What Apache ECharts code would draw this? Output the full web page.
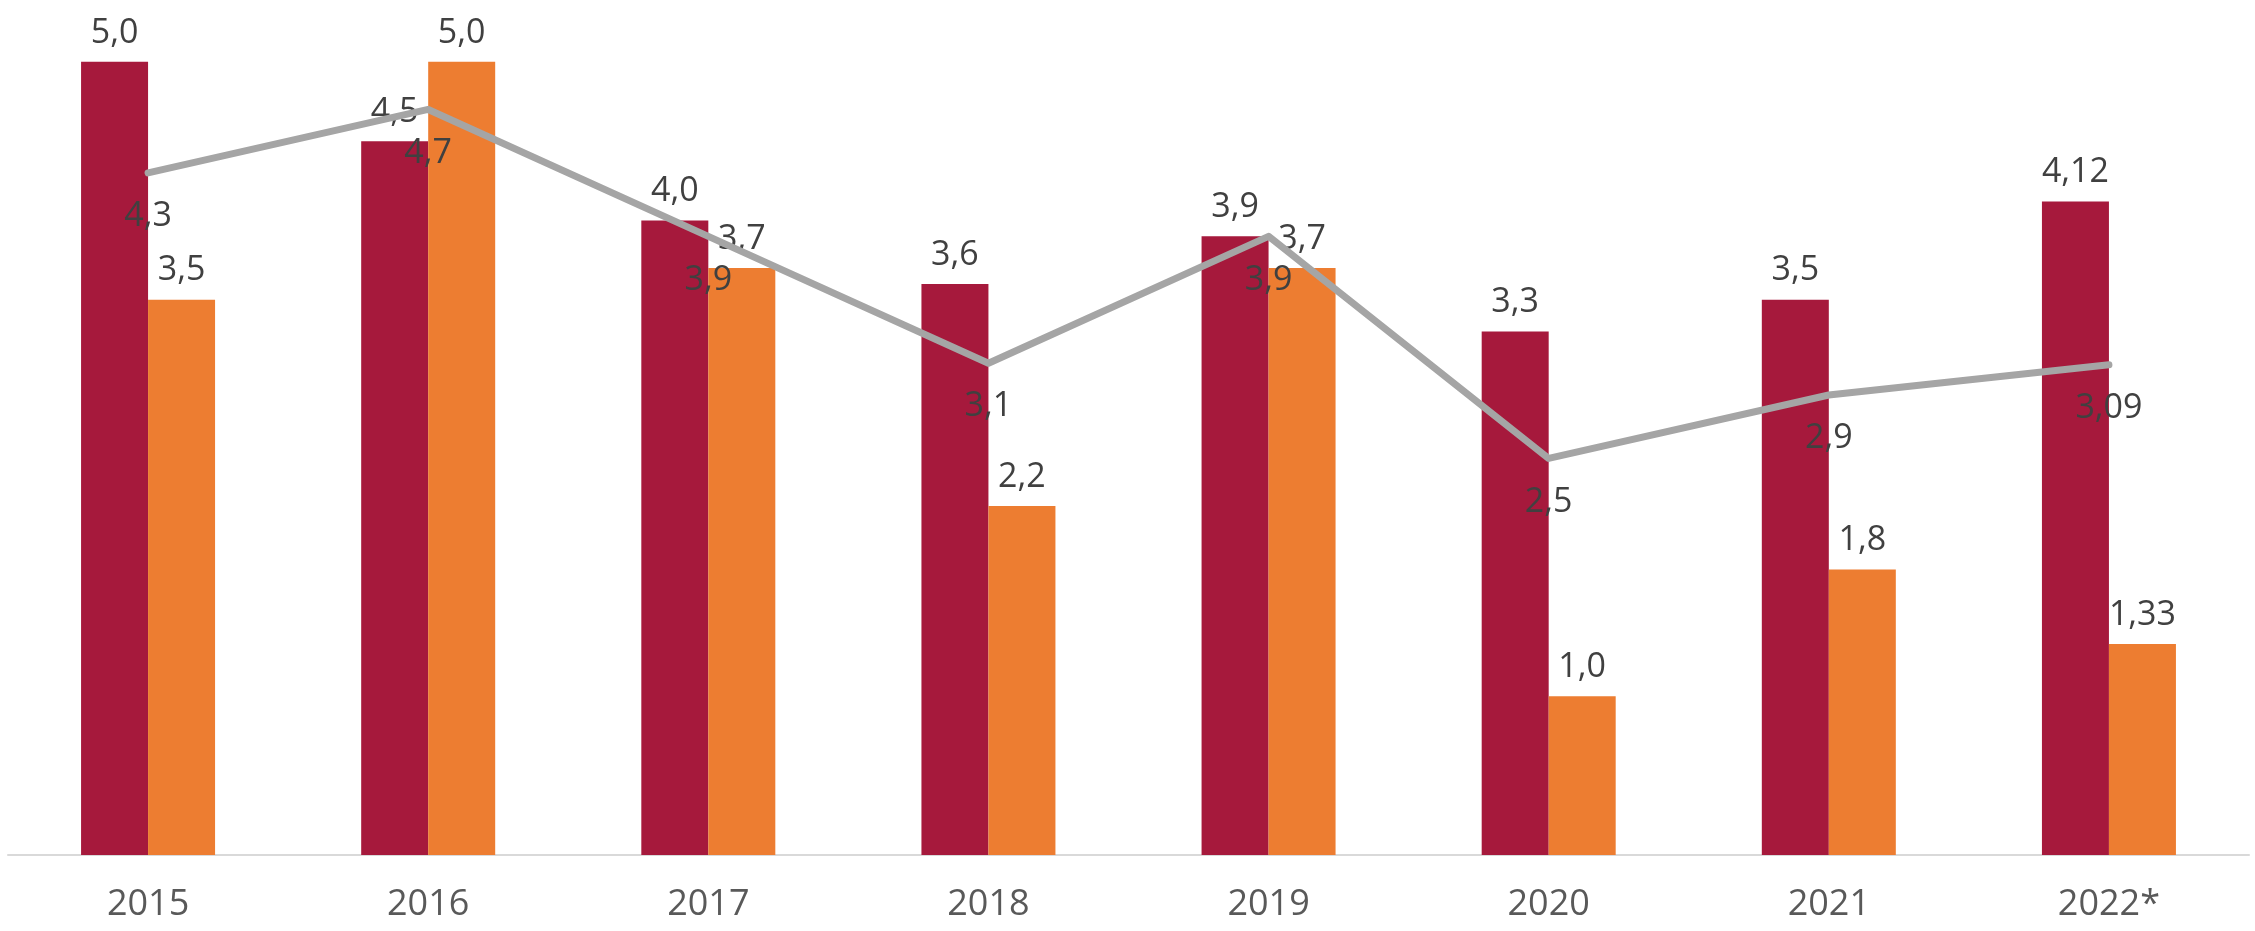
<!DOCTYPE html>
<html>
<head>
<meta charset="utf-8">
<script src="https://cdn.jsdelivr.net/npm/echarts@6/dist/echarts.min.js"></script>
<style>
  html, body { margin: 0; padding: 0; background: #fff; }
  #chart { width: 2255px; height: 931px; }
</style>
</head>
<body>
<div id="chart"></div>
<script>
const years = ['2015', '2016', '2017', '2018', '2019', '2020', '2021', '2022*'];
const barsRed = [5.0, 4.5, 4.0, 3.6, 3.9, 3.3, 3.5, 4.12];
const barsOrange = [3.5, 5.0, 3.7, 2.2, 3.7, 1.0, 1.8, 1.33];
const lineGray = [4.3, 4.7, 3.9, 3.1, 3.9, 2.5, 2.9, 3.09];

// excel style: decimal comma, keep at least one decimal
const fmt = p => {
    let s = String(p.value);
    if (s.indexOf('.') < 0) s += '.0';
    return s.replace('.', ',');
};

const labelFont = {
    fontFamily: 'Open Sans',
    fontSize: 34,
    color: '#404040',
};

const chart = echarts.init(document.getElementById('chart'));

chart.setOption({
    animation: false,
    grid: { left: 8, right: 6, top: 0, bottom: 76 },
    xAxis: {
        type: 'category',
        data: years,
        axisLine: { lineStyle: { color: '#d9d9d9', width: 2 } },
        axisTick: { show: false },
        axisLabel: {
            color: '#595959',
            fontFamily: 'Open Sans',
            fontSize: 36,
            margin: 32,
        },
    },
    yAxis: {
        type: 'value',
        min: 0,
        max: 5.39,
        show: false,
        splitLine: { show: false },
    },
    series: [
        {
            name: 'red',
            type: 'bar',
            data: barsRed,
            barWidth: 67,
            barGap: '0%',
            itemStyle: { color: '#a6193c' },
            label: { show: true, position: 'top', distance: 12, formatter: fmt, ...labelFont },
        },
        {
            name: 'orange',
            type: 'bar',
            data: barsOrange,
            barWidth: 67,
            barGap: '0%',
            itemStyle: { color: '#ed7d31' },
            label: { show: true, position: 'top', distance: 12, formatter: fmt, ...labelFont },
        },
        {
            name: 'gray',
            type: 'line',
            data: lineGray,
            symbol: 'circle',
            symbolSize: 1,
            itemStyle: { color: '#a5a5a5' },
            lineStyle: { color: '#a5a5a5', width: 7, cap: 'round', join: 'round' },
            label: { show: true, position: 'bottom', distance: 26, formatter: fmt, ...labelFont },
            z: 3,
        },
    ],
});
</script>
</body>
</html>
